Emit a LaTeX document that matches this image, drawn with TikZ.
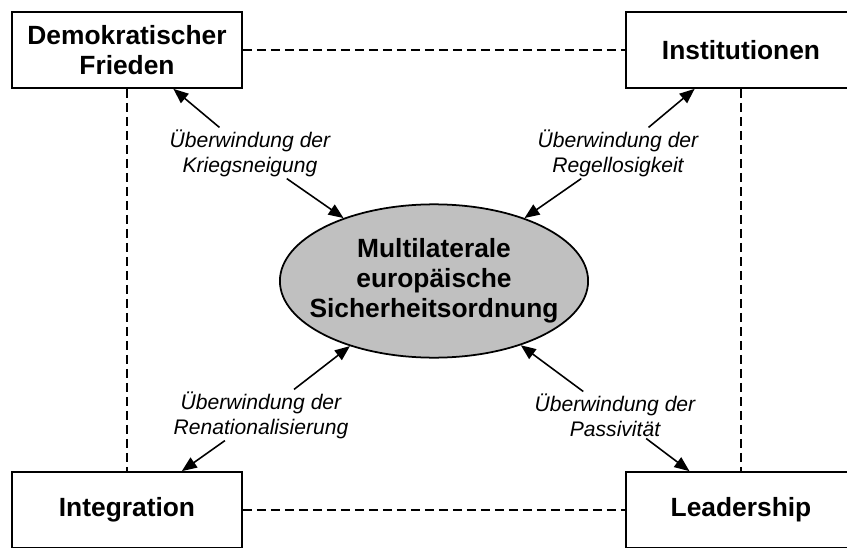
\documentclass[tikz,border=0pt]{standalone}
\usepackage{fontspec}
\setmainfont{Liberation Sans}
\usetikzlibrary{arrows.meta,shapes.geometric}
\definecolor{ellgray}{HTML}{C0C0C0}

\begin{document}
\begin{tikzpicture}[x=0.02cm,y=-0.02cm,
	pillar/.style={draw,line width=1pt,minimum width=4.6cm,minimum height=1.52cm,align=center,font=\bfseries\fontsize{15}{17}\selectfont},
	goal/.style={ellipse,draw,fill=ellgray,line width=1pt,inner xsep=-0.31cm,inner ysep=0.24cm,align=center,font=\bfseries\fontsize{15}{17}\selectfont},
	hurdle/.style={align=center,inner sep=1pt,font=\itshape\fontsize{12}{14.2}\selectfont},
	link/.style={line width=0.9pt,dash pattern=on 0.18cm off 0.1cm},
	push/.style={line width=0.9pt,-{Triangle[length=0.3cm,width=0.24cm]}}]
			%%%%% START %%%%%
			\useasboundingbox (0, 0) rectangle (847, 547);
			\clip (0, 0) rectangle (847, 547);
			
			\node[pillar] (frieden) at (127, 50) {Demokratischer\\Frieden};
			\node[pillar] (inst) at (741, 50) {Institutionen};
			\node[pillar] (integ) at (127, 510) {Integration};
			\node[pillar] (lead) at (741, 510) {Leadership};
			
			\node[goal] (ordnung) at (434, 281) {Multilaterale\\europäische\\Sicherheitsordnung};
			
			\node[hurdle] (krieg) at (250, 153) {Überwindung der\\Kriegsneigung};
			\node[hurdle] (regel) at (618, 153) {Überwindung der\\Regellosigkeit};
			\node[hurdle] (renat) at (261, 415) {Überwindung der\\Renationalisierung};
			\node[hurdle] (passiv) at (615, 415) {Überwindung der\\Passivität};
			
			\draw[link] (frieden) -- (inst);
			\draw[link] (integ) -- (lead);
			\draw[link] (frieden) -- (integ);
			\draw[link] (inst) -- (lead);
			
			\draw[push] (krieg) -- (frieden);
			\draw[push] (krieg) -- (ordnung);
			\draw[push] (regel) -- (inst);
			\draw[push] (regel) -- (ordnung);
			\draw[push] (renat) -- (integ);
			\draw[push] (renat) -- (ordnung);
			\draw[push] (passiv) -- (lead);
			\draw[push] (passiv) -- (ordnung);
			%%%%% END %%%%%
\end{tikzpicture}
\end{document}
